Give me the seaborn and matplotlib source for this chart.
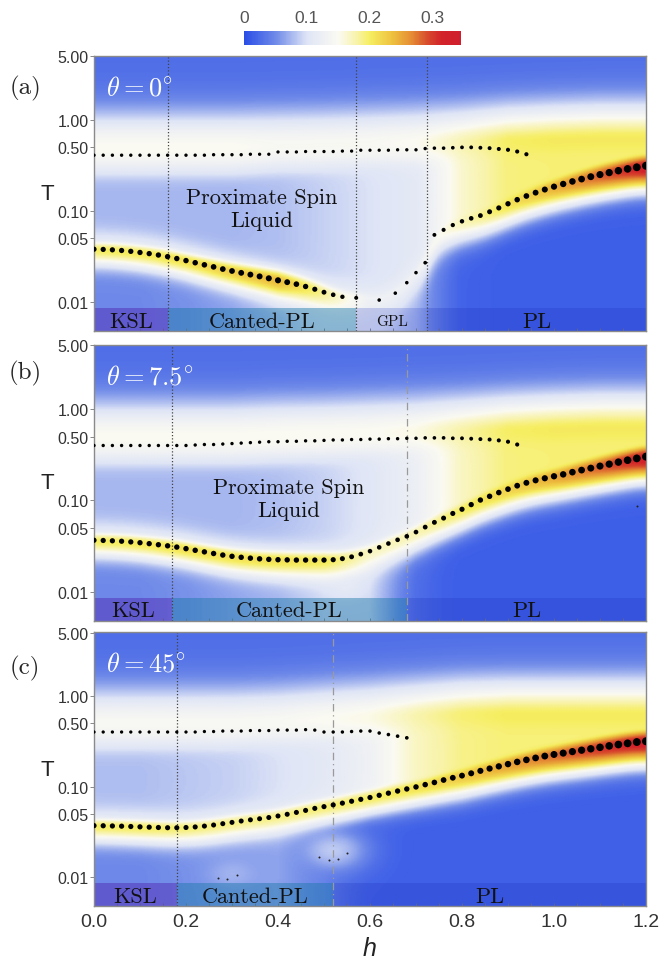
import numpy as np
import pandas as pd
import matplotlib
matplotlib.use("Agg")
import matplotlib.pyplot as plt
import seaborn as sns
from matplotlib.colors import LinearSegmentedColormap
from matplotlib.ticker import FixedLocator, MultipleLocator

sns.set_theme(style="white")
plt.rcParams['font.family'] = ['Liberation Sans', 'DejaVu Sans']
plt.rcParams['mathtext.fontset'] = 'cm'

# ---------------- data ----------------
h_anchor = [0.0, 0.1, 0.2, 0.3, 0.4, 0.5, 0.6, 0.7, 0.8, 0.9, 1.0, 1.1, 1.2]

# panel (a) theta = 0
hu_a = np.round(np.arange(0, 0.9401, 0.02), 3)
Tu_a = [0.41]*13 + [0.415]*4 + [0.42]*3 + \
       [0.445, 0.445, 0.445, 0.45, 0.45, 0.45, 0.45, 0.455, 0.455] + \
       [0.465, 0.465, 0.465, 0.465, 0.47, 0.47, 0.47] + \
       [0.485, 0.49, 0.49, 0.495, 0.5, 0.5, 0.495, 0.49] + \
       [0.48, 0.47, 0.45, 0.42]
hl_a = list(np.round(np.arange(0, 0.5401, 0.02), 3)) + [0.57, 0.62, 0.655, 0.68, 0.70, 0.72] + \
       list(np.round(np.arange(0.74, 1.2001, 0.02), 3))
Tl_a = [0.0380, 0.0378, 0.0374, 0.0368, 0.0360, 0.0350, 0.0340, 0.0328, 0.0315, 0.0300,
        0.0285, 0.0270, 0.0256, 0.0243, 0.0230, 0.0219, 0.0209, 0.0200, 0.0191, 0.0182,
        0.0173, 0.0165, 0.0157, 0.0148, 0.0138, 0.0128, 0.0120, 0.0114,
        0.0111, 0.0105, 0.0125, 0.0163, 0.0210, 0.0270,
        0.0546, 0.0620, 0.0700, 0.0770, 0.0830, 0.0890, 0.0980, 0.108, 0.120, 0.133,
        0.146, 0.159, 0.172, 0.185, 0.198, 0.211, 0.224, 0.238, 0.251, 0.264,
        0.277, 0.290, 0.302, 0.314]
Pl_a = [0.205, 0.21, 0.215, 0.23, 0.245, 0.19, 0.13, 0.13, 0.17, 0.21, 0.25, 0.29, 0.33]
Pu_a = [0.155, 0.155, 0.155, 0.155, 0.15, 0.15, 0.15, 0.155, 0.175, 0.195, 0.2, 0.2, 0.2]
Mid_a = [0.08, 0.08, 0.08, 0.08, 0.085, 0.095, 0.105, 0.115, 0.17, 0.198, 0.2, 0.2, 0.2]
Low_a = [0.055, 0.055, 0.06, 0.07, 0.09, 0.11, 0.11, 0.08, 0.015, 0.0, 0.0, 0.0, 0.0]
Tcu_a = [0.5, 0.5, 0.5, 0.5, 0.52, 0.53, 0.55, 0.56, 0.56, 0.58, 0.6, 0.62, 0.62]
Wl_a = [0.10, 0.10, 0.105, 0.115, 0.125, 0.12, 0.11, 0.11, 0.12, 0.13, 0.13, 0.14, 0.14]

# panel (b) theta = 7.5
hu_b = np.round(np.arange(0, 0.9201, 0.02), 3)
Tu_b = [0.40]*11 + [0.405, 0.41, 0.41, 0.415, 0.42, 0.425, 0.43, 0.435, 0.44, 0.44] + \
       [0.445, 0.445, 0.45, 0.45, 0.455, 0.46, 0.46, 0.465, 0.465, 0.47] + \
       [0.47, 0.475, 0.475, 0.48, 0.48, 0.485, 0.485, 0.485, 0.48, 0.48] + \
       [0.475, 0.47, 0.465, 0.455, 0.44, 0.41]
hl_b = np.round(np.arange(0, 1.2001, 0.02), 3)
Tl_b = [0.0366, 0.0364, 0.0361, 0.0357, 0.0351, 0.0344, 0.0336, 0.0327, 0.0318, 0.0308,
        0.0296, 0.0284, 0.0273, 0.0262, 0.0252, 0.0244, 0.0238, 0.0233, 0.0229, 0.0226,
        0.0224, 0.0223, 0.0222, 0.0222, 0.0222, 0.0222, 0.0224, 0.0230, 0.0241, 0.0258,
        0.0278, 0.0306, 0.0337, 0.0370, 0.0404, 0.0450, 0.0510, 0.0575, 0.0640, 0.0720,
        0.0800, 0.0900, 0.1010, 0.1110, 0.1220, 0.1330, 0.1450, 0.1560, 0.1660, 0.1750,
        0.1840, 0.1930, 0.2040, 0.2150, 0.2260, 0.2380, 0.2500, 0.2630, 0.2760, 0.2890,
        0.3020]
stray_h_b = [1.18]
stray_T_b = [0.087]
Pl_b = [0.205, 0.21, 0.215, 0.215, 0.215, 0.21, 0.175, 0.18, 0.205, 0.225, 0.255, 0.29, 0.33]
Pu_b = [0.155, 0.155, 0.155, 0.155, 0.155, 0.155, 0.155, 0.16, 0.18, 0.195, 0.2, 0.2, 0.2]
Mid_b = [0.08, 0.08, 0.08, 0.08, 0.085, 0.095, 0.11, 0.13, 0.175, 0.198, 0.2, 0.2, 0.2]
Low_b = [0.055, 0.055, 0.06, 0.07, 0.08, 0.10, 0.10, 0.03, 0.0, 0.0, 0.0, 0.0, 0.0]
Tcu_b = [0.5, 0.5, 0.5, 0.5, 0.52, 0.53, 0.55, 0.56, 0.56, 0.58, 0.6, 0.62, 0.62]
Wl_b = [0.10, 0.10, 0.105, 0.11, 0.115, 0.115, 0.11, 0.115, 0.12, 0.13, 0.13, 0.14, 0.14]

# panel (c) theta = 45
hu_c = np.round(np.arange(0, 0.6801, 0.02), 3)
Tu_c = [0.40]*11 + [0.40, 0.405, 0.405, 0.41, 0.41, 0.41, 0.415, 0.415, 0.415, 0.42, 0.42, 0.42] + \
       [0.425, 0.42, 0.40, 0.40, 0.40, 0.405, 0.41, 0.41, 0.39, 0.375, 0.36, 0.345]
hl_c = np.round(np.arange(0, 1.2001, 0.02), 3)
Tl_c = [0.0370, 0.0369, 0.0367, 0.0365, 0.0362, 0.0359, 0.0356, 0.0353, 0.0351, 0.0351,
        0.0353, 0.0358, 0.0366, 0.0376, 0.0389, 0.0402, 0.0416, 0.0429, 0.0441, 0.0455,
        0.0473, 0.0494, 0.0518, 0.0545, 0.0574, 0.0600, 0.0627, 0.0656, 0.0688, 0.0722,
        0.0757, 0.0800, 0.0845, 0.0892, 0.0940, 0.0990, 0.1050, 0.1110, 0.1180, 0.1250,
        0.1320, 0.1400, 0.1490, 0.1580, 0.1670, 0.1770, 0.1870, 0.1970, 0.2070, 0.2170,
        0.2260, 0.2340, 0.2430, 0.2520, 0.2610, 0.2710, 0.2810, 0.2910, 0.3000, 0.3100,
        0.3160]
small_h_c = [0.27, 0.29, 0.31, 0.49, 0.51, 0.53, 0.55]
small_T_c = [0.0099, 0.0095, 0.0105, 0.0167, 0.0154, 0.0159, 0.0186]
Pl_c = [0.205, 0.205, 0.2, 0.195, 0.195, 0.2, 0.205, 0.215, 0.235, 0.26, 0.285, 0.31, 0.33]
Pu_c = [0.15, 0.15, 0.15, 0.15, 0.15, 0.155, 0.16, 0.175, 0.19, 0.2, 0.2, 0.2, 0.2]
Mid_c = [0.085, 0.085, 0.09, 0.095, 0.105, 0.115, 0.135, 0.175, 0.195, 0.2, 0.2, 0.2, 0.2]
Low_c = [0.055, 0.055, 0.06, 0.065, 0.07, 0.05, 0.01, 0.0, 0.0, 0.0, 0.0, 0.0, 0.0]
Tcu_c = [0.5, 0.5, 0.5, 0.5, 0.52, 0.55, 0.58, 0.6, 0.62, 0.62, 0.62, 0.62, 0.62]
Wl_c = [0.10, 0.10, 0.10, 0.105, 0.11, 0.115, 0.12, 0.12, 0.125, 0.13, 0.13, 0.14, 0.14]

# local bright lobes (h, T, value)
lobes_a = [(0.50, 0.006, 0.10)]
lobes_b = [(0.55, 0.011, 0.11)]
lobes_c = [(0.30, 0.011, 0.075), (0.52, 0.02, 0.092)]

# phase boundaries and labels
bounds_a = [0.16, 0.57, 0.725]
bounds_b = [0.17, 0.68]
bounds_c = [0.18, 0.52]
phases_a = ["KSL", "Canted-PL", "GPL", "PL"]
phases_b = ["KSL", "Canted-PL", "PL"]
phases_c = ["KSL", "Canted-PL", "PL"]
angles = [r"$\theta = 0^{\circ}$", r"$\theta = 7.5^{\circ}$", r"$\theta = 45^{\circ}$"]
letters = ["(a)", "(b)", "(c)"]

ytick_vals = [0.01, 0.05, 0.10, 0.50, 1.00, 5.00]
ytick_labels = ["0.01", "0.05", "0.10", "0.50", "1.00", "5.00"]
xtick_vals = [0.0, 0.2, 0.4, 0.6, 0.8, 1.0, 1.2]
cbar_ticks = [0, 0.1, 0.2, 0.3]

# ---------------- colormap ----------------
VMAX = 0.345
stops = [(0.0, '#2a4ee6'), (0.05, '#6f8ae8'), (0.10, '#dfe5f6'), (0.15, '#fbfaf2'),
         (0.18, '#f8f3a8'), (0.20, '#f6ee62'), (0.235, '#eec240'), (0.265, '#e59035'),
         (0.295, '#d6452c'), (0.315, '#d2222a'), (0.345, '#cf1f2e')]
cmap = LinearSegmentedColormap.from_list('kc', [(v / VMAX, c) for v, c in stops])

TMIN, TMAX = 0.0048, 5.05
hg = np.linspace(0, 1.2, 361)
tg = np.linspace(np.log10(TMIN), np.log10(TMAX), 360)
H, TT = np.meshgrid(hg, tg)
SOFT = 0.012


def smooth_h(vals, sigma=0.015):
    # light smoothing of a ridge line along h (display only)
    k = np.exp(-0.5 * ((hg[:, None] - hg[None, :]) / sigma) ** 2)
    return (k @ vals) / k.sum(axis=1)


def build_field(hl, Tl, Pl, Pu, Mid, Low, Tcu, Wl, lobes):
    tl = smooth_h(np.interp(hg, hl, np.log10(Tl)))[None, :] + 0 * TT
    tu = np.interp(H, h_anchor, np.log10(Tcu))
    pl = np.interp(H, h_anchor, Pl)
    pu = np.interp(H, h_anchor, Pu)
    mid = np.interp(H, h_anchor, Mid)
    low = np.interp(H, h_anchor, Low)
    sb = np.interp(H, [0, 0.5, 0.8, 1.2], [0.13, 0.14, 0.19, 0.2])
    sa = np.interp(H, h_anchor, Wl)
    d_u = TT - tu
    cu = np.where(d_u > 0, 0.03 + (pu - 0.03) * np.exp(-0.5 * (d_u / 0.30) ** 2),
                  pu * np.exp(-0.5 * (d_u / 0.33) ** 2))
    d_l = TT - tl
    cl = np.where(d_l > 0, pl * np.exp(-0.5 * (d_l / sa) ** 2),
                  low + (pl - low) * np.exp(-0.5 * (d_l / sb) ** 2))
    skirt = np.where(d_l > 0, 0.12 * np.exp(-0.5 * (d_l / 0.3) ** 2), 0.0)
    win = np.where(TT > tu, np.exp(-0.5 * ((TT - tu) / 0.22) ** 2),
                   np.where(TT < tl, np.exp(-0.5 * ((TT - tl) / sb) ** 2), 1.0))
    cm = mid * win
    comps = [cu, cl, cm, skirt]
    for (lh, lT, lv) in lobes:
        comps.append(lv * np.exp(-0.5 * ((H - lh) / 0.07) ** 2
                                 - 0.5 * ((TT - np.log10(lT)) / 0.22) ** 2))
    stack = np.stack(comps) / SOFT
    C = SOFT * np.logaddexp.reduce(stack, axis=0) - SOFT * np.log(len(comps)) * 0.3
    return np.clip(C, 0, VMAX)


panels = [
    dict(hu=hu_a, Tu=Tu_a, hl=hl_a, Tl=Tl_a, Pl=Pl_a, Pu=Pu_a, Mid=Mid_a, Low=Low_a, Tcu=Tcu_a,
         Wl=Wl_a, lobes=lobes_a, bounds=bounds_a, phases=phases_a, extra=None,
         styles=[':', ':', ':'], psl=(0.365, 0.105)),
    dict(hu=hu_b, Tu=Tu_b, hl=hl_b, Tl=Tl_b, Pl=Pl_b, Pu=Pu_b, Mid=Mid_b, Low=Low_b, Tcu=Tcu_b,
         Wl=Wl_b, lobes=lobes_b, bounds=bounds_b, phases=phases_b, extra=(stray_h_b, stray_T_b),
         styles=[':', 'dd'], psl=(0.424, 0.105)),
    dict(hu=hu_c, Tu=Tu_c, hl=hl_c, Tl=Tl_c, Pl=Pl_c, Pu=Pu_c, Mid=Mid_c, Low=Low_c, Tcu=Tcu_c,
         Wl=Wl_c, lobes=lobes_c, bounds=bounds_c, phases=phases_c, extra=(small_h_c, small_T_c),
         styles=[':', 'dd'], psl=None),
]

fig = plt.figure(figsize=(6.61, 9.62), dpi=100)
fig.patch.set_facecolor('white')
ax_rects = [[0.1422, 0.6549, 0.8351, 0.2859],
            [0.1422, 0.3537, 0.8351, 0.2866],
            [0.1422, 0.0572, 0.8351, 0.2845]]
letter_y = [0.9085, 0.6123, 0.3056]

band_colors = {"KSL": ((0.33, 0.18, 0.72), 0.5), "Canted-PL": ((0.10, 0.47, 0.66), 0.45),
               "GPL": ((0.25, 0.33, 0.80), 0.25), "PL": ((0.12, 0.20, 0.75), 0.25)}
BAND_TOP = 0.0085
PX2PT = 0.72

mesh = None
for i, p in enumerate(panels):
    ax = fig.add_axes(ax_rects[i])
    C = build_field(p['hl'], p['Tl'], p['Pl'], p['Pu'], p['Mid'], p['Low'], p['Tcu'], p['Wl'],
                    p['lobes'])
    mesh = ax.pcolormesh(hg, 10 ** tg, C, cmap=cmap, vmin=0, vmax=VMAX, shading='gouraud',
                         rasterized=True, zorder=0)
    ax.set_yscale('log')
    ax.set_xlim(0, 1.2)
    ax.set_ylim(TMIN, TMAX)

    # phase bands
    edges = [0.0] + p['bounds'] + [1.2]
    for k, name in enumerate(p['phases']):
        col, al = band_colors[name]
        ax.fill_between([edges[k], edges[k + 1]], TMIN, BAND_TOP, color=col, alpha=al, lw=0, zorder=1)
        fs = 11 if name == "GPL" else 16
        ax.text((edges[k] + edges[k + 1]) / 2, 0.0062, name, ha='center', va='center',
                fontsize=fs, family='cmr10', color='#111111', zorder=5)

    # boundary lines
    for b, st in zip(p['bounds'], p['styles']):
        if st == ':':
            ax.axvline(b, color='#444444', lw=0.9, ls=(0, (1, 1.6)), zorder=2)
        else:
            ax.axvline(b, color='#9a9a9a', lw=0.9, ls=(0, (6, 3, 1, 3)), zorder=2)

    # dots
    pu_dot = np.interp(p['hu'], h_anchor, p['Pu'])
    su = ((3.3 + (pu_dot - 0.15) * 18) * PX2PT) ** 2
    dfu = pd.DataFrame({'h': p['hu'], 'T': p['Tu']})
    sns.scatterplot(data=dfu, x='h', y='T', ax=ax, color='black', s=su, linewidth=0, zorder=4)
    pl_dot = np.interp(p['hl'], h_anchor, p['Pl'])
    sl = (np.clip(5.1 + (pl_dot - 0.2) * 22, 2.9, None) * PX2PT) ** 2
    dfl = pd.DataFrame({'h': p['hl'], 'T': p['Tl']})
    sns.scatterplot(data=dfl, x='h', y='T', ax=ax, color='black', s=sl, linewidth=0, zorder=4)
    if p['extra'] is not None:
        dfe = pd.DataFrame({'h': p['extra'][0], 'T': p['extra'][1]})
        sns.scatterplot(data=dfe, x='h', y='T', ax=ax, color='#222222', s=(2.0 * PX2PT) ** 2,
                        linewidth=0, zorder=4)

    if p['psl'] is not None:
        ax.text(p['psl'][0], p['psl'][1], "Proximate Spin\nLiquid", ha='center', va='center',
                multialignment='center', fontsize=16, family='cmr10', color='#111111',
                linespacing=1.2, zorder=5)
    ax.text(0.022, 0.887, angles[i], transform=ax.transAxes, color='white', fontsize=19,
            ha='left', va='center', zorder=5)
    fig.text(0.038, letter_y[i], letters[i], fontsize=18, family='cmr10', ha='center', va='center')

    ax.yaxis.set_major_locator(FixedLocator(ytick_vals))
    ax.set_yticklabels(ytick_labels)
    ax.yaxis.set_minor_locator(FixedLocator([]))
    ax.tick_params(axis='y', which='major', labelsize=11.5, labelcolor='#333333', length=3,
                   width=0.7, color='#888888', direction='out', pad=1, left=True)
    ax.xaxis.set_major_locator(FixedLocator(xtick_vals))
    ax.xaxis.set_minor_locator(MultipleLocator(0.05))
    ax.tick_params(axis='x', which='both', direction='in', length=2.5, width=0.6,
                   color='#777777', bottom=True, top=False)
    ax.tick_params(axis='x', which='major', labelsize=14, labelcolor='#333333', pad=5)
    if i < 2:
        ax.set_xticklabels([])
        ax.set_xlabel('')
    else:
        ax.set_xticklabels(["0.0", "0.2", "0.4", "0.6", "0.8", "1.0", "1.2"])
        ax.set_xlabel('h', fontsize=18, style='italic', color='#222222')
        ax.xaxis.set_label_coords(0.5, -0.11)
    ax.set_ylabel('T', rotation=0, fontsize=16, color='#222222', va='center', ha='center')
    ax.yaxis.set_label_coords(-0.085, 0.5)
    for sp in ax.spines.values():
        sp.set_color('#8a8a8a')
        sp.set_linewidth(1.0)

cax = fig.add_axes([0.3691, 0.9522, 0.3283, 0.01455])
cb = fig.colorbar(mesh, cax=cax, orientation='horizontal', ticks=cbar_ticks)
cb.outline.set_visible(False)
cax.xaxis.set_ticks_position('top')
cax.xaxis.set_label_position('top')
cb.set_ticklabels(["0", "0.1", "0.2", "0.3"])
cax.tick_params(labelsize=12.5, labelcolor='#555555', length=0, pad=4)

fig.savefig('out.png', dpi=100)
